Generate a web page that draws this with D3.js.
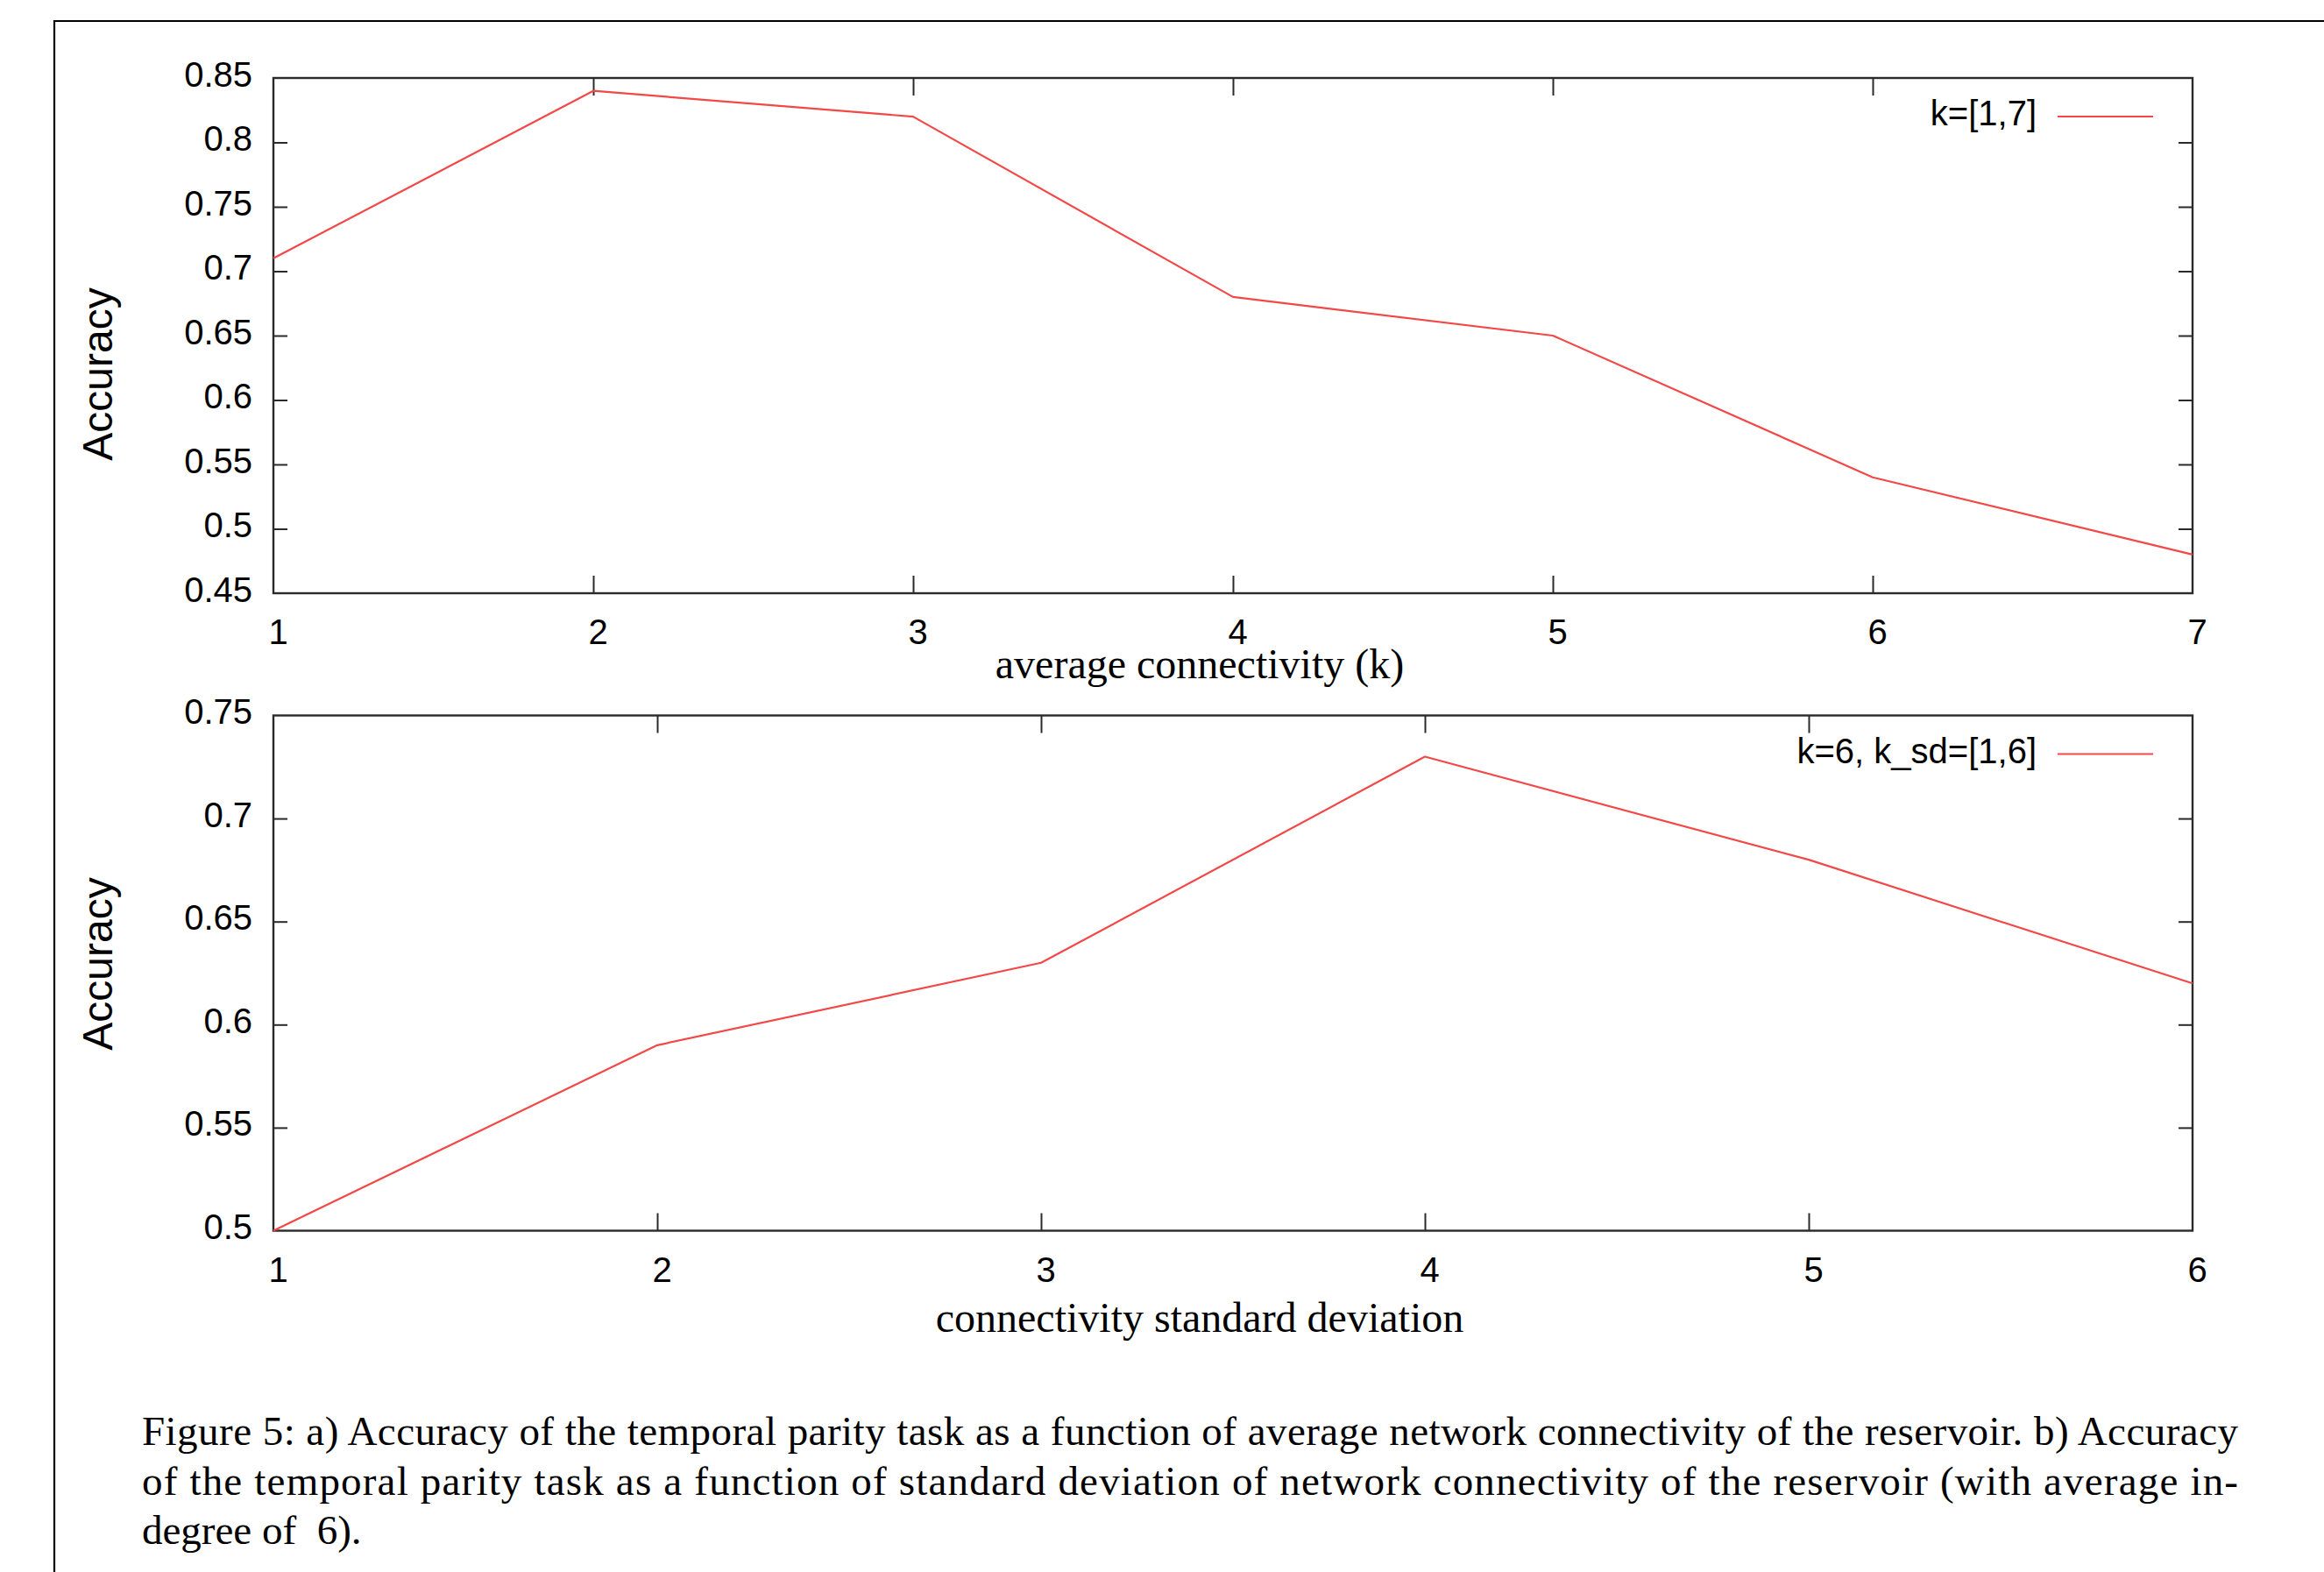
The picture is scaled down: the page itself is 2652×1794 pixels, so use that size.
<!DOCTYPE html>
<html>
<head>
<meta charset="utf-8">
<script src="https://cdn.jsdelivr.net/npm/d3@7"></script>
<style>
html,body{margin:0;padding:0;background:#fff;}
svg{display:block;}
</style>
</head>
<body>
<svg id="chart" width="2652" height="1794"></svg>
<script>
// ---- data ----
const kValues = [1, 2, 3, 4, 5, 6, 7];
const accuracyK = [0.71, 0.84, 0.82, 0.68, 0.65, 0.54, 0.48];
const kTickLabels = ["1", "2", "3", "4", "5", "6", "7"];
const accTicksA = [0.45, 0.5, 0.55, 0.6, 0.65, 0.7, 0.75, 0.8, 0.85];
const seriesLabelA = "k=[1,7]";
const xTitleA = "average connectivity (k)";

const sdValues = [1, 2, 3, 4, 5, 6];
const accuracySd = [0.50, 0.59, 0.63, 0.73, 0.68, 0.62];
const sdTickLabels = ["1", "2", "3", "4", "5", "6"];
const accTicksB = [0.5, 0.55, 0.6, 0.65, 0.7, 0.75];
const seriesLabelB = "k=6, k_sd=[1,6]";
const xTitleB = "connectivity standard deviation";

const yTitle = "Accuracy";
const captionLines = [
  "Figure 5: a) Accuracy of the temporal parity task as a function of average network connectivity of the reservoir. b) Accuracy",
  "of the temporal parity task as a function of standard deviation of network connectivity of the reservoir (with average in-",
  "degree of  6)."
];

// ---- layout ----
const svg = d3.select("#chart");
const SANS = "'Liberation Sans', Arial, sans-serif";
const SERIF = "'Liberation Serif', 'Times New Roman', serif";
const FRAME = "#2a2a2a";
const RED = "#f24848";

// outer figure frame (open at right and bottom, extends beyond the page)
svg.append("path")
  .attr("d", "M62,1800 L62,24 L2660,24")
  .attr("fill", "none").attr("stroke", "#000").attr("stroke-width", 2.2);

function panel(opts) {
  const {left, right, top, bottom, xDomain, yDomain, xs, xTickLabels, yTicks, label, xTitle, xTitleY, yTitleY} = opts;
  const x = d3.scaleLinear().domain(xDomain).range([left, right]);
  const y = d3.scaleLinear().domain(yDomain).range([bottom, top]);
  const g = svg.append("g");

  // frame
  g.append("rect")
    .attr("x", left).attr("y", top)
    .attr("width", right - left).attr("height", bottom - top)
    .attr("fill", "none").attr("stroke", FRAME).attr("stroke-width", 2.4);

  // bottom axis (inward ticks) + labels
  const xAxisB = d3.axisBottom(x).tickValues(xs).tickSize(-20).tickPadding(0)
    .tickFormat((d, i) => xTickLabels[i]);
  const gxb = g.append("g").attr("transform", `translate(0,${bottom})`).call(xAxisB);
  gxb.select(".domain").remove();
  gxb.selectAll(".tick line").attr("stroke", FRAME).attr("stroke-width", 2);
  gxb.selectAll(".tick text")
    .attr("font-family", SANS).attr("font-size", 40).attr("fill", "#000")
    .attr("dy", null).attr("y", 58).attr("dx", 5)
    .attr("dominant-baseline", "alphabetic");
  // top axis mirrored ticks
  const gxt = g.append("g").attr("transform", `translate(0,${top})`)
    .call(d3.axisTop(x).tickValues(xs).tickSize(-20).tickFormat(""));
  gxt.select(".domain").remove();
  gxt.selectAll(".tick line").attr("stroke", FRAME).attr("stroke-width", 2);
  [gxb, gxt].forEach(a => a.selectAll(".tick line").filter(d => d === xDomain[0] || d === xDomain[1]).remove());

  // left axis
  const gyl = g.append("g").attr("transform", `translate(${left},0)`)
    .call(d3.axisLeft(y).tickValues(yTicks).tickSize(-16).tickPadding(24)
      .tickFormat(d => String(+d.toFixed(2))));
  gyl.select(".domain").remove();
  gyl.selectAll(".tick line").attr("stroke", FRAME).attr("stroke-width", 2);
  gyl.selectAll(".tick text")
    .attr("font-family", SANS).attr("font-size", 40).attr("fill", "#000")
    .attr("dy", null).attr("y", 9).attr("dominant-baseline", "alphabetic");
  const gyr = g.append("g").attr("transform", `translate(${right},0)`)
    .call(d3.axisRight(y).tickValues(yTicks).tickSize(-16).tickFormat(""));
  gyr.select(".domain").remove();
  gyr.selectAll(".tick line").attr("stroke", FRAME).attr("stroke-width", 2);
  [gyl, gyr].forEach(a => a.selectAll(".tick line").filter(d => Math.abs(d - yDomain[0]) < 1e-9 || Math.abs(d - yDomain[1]) < 1e-9).remove());

  // data line
  const line = d3.line().x(d => x(d[0])).y(d => y(d[1]));
  g.append("path")
    .datum(xs.map((v, i) => [v, opts.values[i]]))
    .attr("d", line)
    .attr("fill", "none").attr("stroke", RED).attr("stroke-width", 2.2)
    .attr("stroke-linejoin", "round");

  // legend
  const ly = top + 44;
  g.append("text").attr("x", 2324).attr("y", ly + 10)
    .attr("text-anchor", "end").attr("font-family", SANS).attr("font-size", 40)
    .attr("fill", "#000").text(label);
  g.append("line").attr("x1", 2348).attr("x2", 2457).attr("y1", ly).attr("y2", ly)
    .attr("stroke", RED).attr("stroke-width", 2.2);

  // axis titles
  g.append("text").attr("x", 1369).attr("y", xTitleY)
    .attr("text-anchor", "middle").attr("font-family", SERIF).attr("font-size", 48)
    .attr("fill", "#000").text(xTitle);
  g.append("text")
    .attr("transform", `translate(128,${yTitleY}) rotate(-90)`)
    .attr("text-anchor", "middle").attr("font-family", SANS).attr("font-size", 48)
    .attr("fill", "#000").text(yTitle);
}

panel({
  left: 312, right: 2502, top: 89, bottom: 677,
  xDomain: [1, 7], yDomain: [0.45, 0.85],
  xs: kValues, values: accuracyK, xTickLabels: kTickLabels, yTicks: accTicksA,
  label: seriesLabelA, xTitle: xTitleA, xTitleY: 774, yTitleY: 427
});

panel({
  left: 312, right: 2502, top: 816.5, bottom: 1404.5,
  xDomain: [1, 6], yDomain: [0.5, 0.75],
  xs: sdValues, values: accuracySd, xTickLabels: sdTickLabels, yTicks: accTicksB,
  label: seriesLabelB, xTitle: xTitleB, xTitleY: 1520, yTitleY: 1100
});

// caption
const capBase = [1649, 1706, 1762];
captionLines.forEach((t, i) => {
  const txt = svg.append("text").attr("x", 162).attr("y", capBase[i])
    .attr("font-family", SERIF).attr("font-size", 47).attr("fill", "#000")
    .attr("xml:space", "preserve").style("white-space", "pre").text(t);
  if (i < 2) txt.attr("textLength", 2554 - 162).attr("lengthAdjust", "spacing");
});
</script>
</body>
</html>
